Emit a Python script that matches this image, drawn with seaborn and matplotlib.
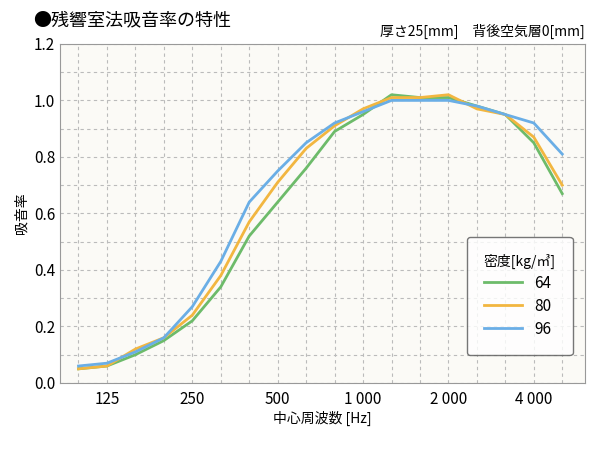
import matplotlib
matplotlib.use("Agg")
import matplotlib.pyplot as plt
import seaborn as sns
import pandas as pd

plt.rcParams["font.family"] = "Noto Sans CJK JP"

bands = ["100","125","160","200","250","315","400","500","630","800","1000",
         "1250","1600","2000","2500","3150","4000","5000"]
d64 = [0.05,0.06,0.10,0.15,0.22,0.34,0.52,0.64,0.76,0.89,0.95,1.02,1.01,1.01,0.98,0.95,0.85,0.67]
d80 = [0.05,0.06,0.12,0.16,0.24,0.38,0.57,0.71,0.83,0.91,0.97,1.01,1.01,1.02,0.97,0.95,0.87,0.70]
d96 = [0.06,0.07,0.11,0.16,0.27,0.43,0.64,0.75,0.85,0.92,0.96,1.00,1.00,1.00,0.98,0.95,0.92,0.81]
series = ["64", "80", "96"]
colors = ["#6dbb6a", "#f2b640", "#6aaee6"]
upper_labels = {1:"125", 4:"250", 7:"500", 10:"1 000", 13:"2 000", 16:"4 000"}
lower_labels = {0:"100", 17:"5000"}

rows = []
for name, vals in zip(series, [d64, d80, d96]):
    for i, v in enumerate(vals):
        rows.append({"idx": i, "val": v, "density": name})
df = pd.DataFrame(rows)

fig = plt.figure(figsize=(6.0, 4.57), dpi=100)
ax = fig.add_axes([0.10, 0.162, 0.875, 0.742])
ax.set_facecolor("#fbfaf6")
sns.lineplot(data=df, x="idx", y="val", hue="density", palette=colors, lw=2, ax=ax)

ax.set_xlim(-0.65, 17.8)
ax.set_ylim(0, 1.2)
ax.set_yticks([i*0.2 for i in range(7)])
ax.set_yticks([i*0.1 for i in range(13)], minor=True)
ax.set_yticklabels([f"{i*0.2:.1f}" for i in range(7)], fontsize=11)
ax.set_xticks(range(len(bands)))
ax.set_xticklabels([upper_labels.get(i, "") for i in range(len(bands))], fontsize=11)
ax.set_xticks(sorted(lower_labels), minor=True)
ax.set_xticklabels([lower_labels[k] for k in sorted(lower_labels)], minor=True, fontsize=11)
ax.tick_params(axis="x", which="major", length=0, pad=6)
ax.tick_params(axis="x", which="minor", length=0, pad=24)
ax.tick_params(axis="y", which="both", length=0)
ax.grid(True, axis="x", which="major", color="#bbbbbb", ls=(0, (3, 3)), lw=0.8)
ax.grid(True, axis="y", which="both", color="#bbbbbb", ls=(0, (3, 3)), lw=0.8)
for s in ax.spines.values():
    s.set_color("#999999")
ax.set_xlabel("中心周波数 [Hz]", fontsize=10, labelpad=2)
ax.set_ylabel("吸音率", fontsize=10)

leg = ax.legend(title="密度[kg/㎥]", loc="lower right", bbox_to_anchor=(0.985, 0.07),
                frameon=True, fontsize=11, title_fontsize=10, handlelength=2.5,
                borderpad=0.9, labelspacing=0.4)
leg.get_frame().set_edgecolor("#555555")
leg.get_frame().set_boxstyle("round,pad=0.2")
leg._legend_box.align = "left"

fig.text(0.055, 0.955, "●残響室法吸音率の特性", fontsize=13, va="center")
fig.text(0.975, 0.932, "厚さ25[mm]　背後空気層0[mm]", fontsize=10, ha="right", va="center")
fig.savefig("out.png", dpi=100, facecolor="white")
